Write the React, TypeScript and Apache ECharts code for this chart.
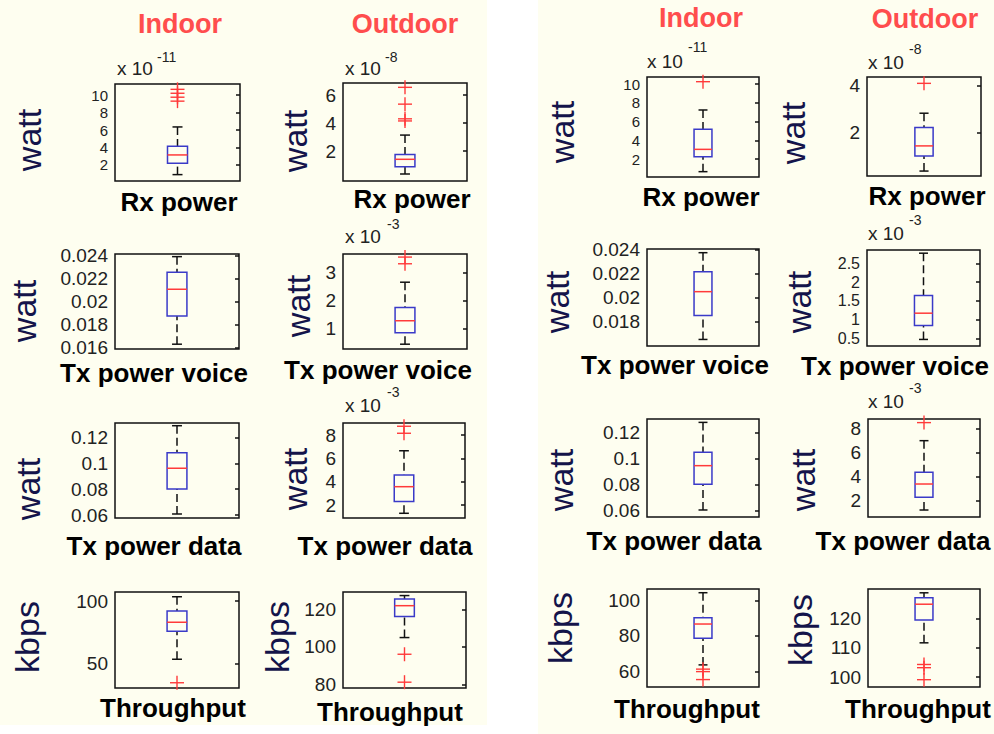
import React, { useEffect, useRef } from 'react';
import * as echarts from 'echarts';

// ---------- data ----------
const panelEnvironments = ['Indoor', 'Outdoor'];
const metricNames = ['Rx power', 'Tx power voice', 'Tx power data', 'Throughput'];
const unitNames = ['watt', 'watt', 'watt', 'kbps'];

// plot order: panel (left, right) -> metric row -> environment (Indoor, Outdoor)
const exponents = ['-11', '-8', '', '-3', '', '-3', '', '', '-11', '-8', '', '-3', '', '-3', '', ''];

// [lower whisker, q1, median, q3, upper whisker] (in axis units, i.e. after the x 10^n factor)
const boxStats = [
  [0.9, 2.2, 3.15, 4.15, 6.35],
  [0.36, 0.88, 1.41, 1.76, 3.14],
  [0.01629, 0.01876, 0.02109, 0.02258, 0.02394],
  [0.43, 0.84, 1.27, 1.74, 2.65],
  [0.0608, 0.0801, 0.0962, 0.1082, 0.1291],
  [1.29, 2.29, 3.57, 4.57, 6.65],
  [53.4, 75.8, 83, 92, 103.4],
  [105, 116.2, 122, 125.6, 127.4],
  [0.65, 2.25, 3.03, 5.17, 7.23],
  [0.38, 1.02, 1.45, 2.23, 2.84],
  [0.01649, 0.01849, 0.0205, 0.02218, 0.02377],
  [0.47, 0.84, 1.17, 1.64, 2.77],
  [0.0604, 0.0802, 0.0945, 0.1048, 0.1278],
  [1.21, 2.27, 3.37, 4.35, 6.97],
  [63.6, 78.6, 86.7, 90.3, 104.4],
  [111.7, 119.5, 124.9, 127.1, 128.8],
];

const outliers = [
  [10.65, 10.2, 9.75, 9.3],
  [6.55, 5.35, 4.3, 4.15],
  [],
  [3.55, 3.31],
  [],
  [8.75, 8.15],
  [34.6],
  [96.1, 81.2],
  [10.25],
  [4.11],
  [],
  [],
  [],
  [8.47],
  [61.2, 59.8, 55.3],
  [104.3, 103.2, 99.1],
];

const yMins = [0.17, -0.14, 0.01587, 0.258, 0.0577, 0.886, 30.4, 78.1, 0.08, 0.17, 0.01594, 0.295, 0.055, 0.63, 51.1, 96.6];
const yMaxs = [11.26, 6.86, 0.02417, 3.66, 0.1312, 9.03, 107.2, 129.3, 10.75, 4.38, 0.02408, 2.855, 0.1304, 8.77, 106.5, 130.1];

const yTicks = [
  [2, 4, 6, 8, 10],
  [2, 4, 6],
  [0.016, 0.018, 0.02, 0.022, 0.024],
  [1, 2, 3],
  [0.06, 0.08, 0.1, 0.12],
  [2, 4, 6, 8],
  [50, 100],
  [80, 100, 120],
  [2, 4, 6, 8, 10],
  [2, 4],
  [0.018, 0.02, 0.022, 0.024],
  [0.5, 1, 1.5, 2, 2.5],
  [0.06, 0.08, 0.1, 0.12],
  [2, 4, 6, 8],
  [60, 80, 100],
  [100, 110, 120],
];

// ---------- layout ----------
const plotRects = [
  [115, 84, 125, 97], [343, 83, 124, 98],
  [115, 254, 124, 95], [343, 254, 124, 95],
  [115, 423, 124, 95], [343, 423, 122, 95],
  [115, 592, 124, 96], [343, 592, 123, 96],
  [647, 77, 112, 100], [867, 77, 114, 99],
  [647, 249, 112, 97], [867, 250, 113, 96],
  [647, 419, 112, 98], [868, 419, 112, 98],
  [647, 589, 112, 98], [868, 589, 112, 98],
];
const tickFontSizes = [15, 19, 19, 19, 19, 19, 19, 19, 15, 19, 19, 16, 19, 19, 19, 19];
const titlePos = [[180, 24], [405, 24], [701, 18], [925, 19]];
const xLabelPos = [
  [179, 202], [412, 199], [154, 373], [378, 370], [154, 546], [385, 546], [173, 708], [390, 712],
  [701, 197], [927, 196], [675, 365], [895, 366], [674, 541], [903, 541], [687, 709], [918, 709],
];
const yLabelPos = [
  [29, 140], [295, 141], [24, 311], [298, 306], [28, 489], [295, 479], [27, 637], [277, 637],
  [562, 132], [793, 133], [557, 302], [799, 302], [561, 480], [803, 480], [560, 628], [800, 630],
];
const expPos: Record<number, number[]> = {
  0: [117, 68, 157, 57],
  1: [345, 68, 385, 57],
  3: [345, 236, 387, 224],
  5: [345, 405, 387, 392],
  8: [647, 61, 688, 47],
  9: [868, 62, 909, 49],
  11: [868, 233, 909, 220],
  13: [868, 401, 909, 388],
};

const FONT = "'Liberation Sans', Arial, sans-serif";
const CREAM = '#fefef0';
const BOX_BLUE = '#3a3ac8';
const MED_RED = '#ff3a3a';
const OUT_RED = '#ff3a3a';
const INK = '#111111';

function renderBox(params: any, api: any) {
  const xv = api.value(0);
  const y = (v: number) => api.coord([xv, v])[1];
  const cx = api.coord([xv, api.value(3)])[0];
  const w = params.coordSys.width * 0.16;
  const cap = w * 0.5;
  const yl = y(api.value(1));
  const y1 = y(api.value(2));
  const ym = y(api.value(3));
  const y3 = y(api.value(4));
  const yh = y(api.value(5));
  const wStyle = { stroke: INK, lineWidth: 1.5, lineDash: [8, 4] };
  const cStyle = { stroke: INK, lineWidth: 1.5 };
  return {
    type: 'group',
    children: [
      { type: 'line', shape: { x1: cx, y1: yh, x2: cx, y2: y3 }, style: wStyle },
      { type: 'line', shape: { x1: cx, y1: yl, x2: cx, y2: y1 }, style: wStyle },
      { type: 'line', shape: { x1: cx - cap / 2, y1: yh, x2: cx + cap / 2, y2: yh }, style: cStyle },
      { type: 'line', shape: { x1: cx - cap / 2, y1: yl, x2: cx + cap / 2, y2: yl }, style: cStyle },
      { type: 'rect', shape: { x: cx - w / 2, y: y3, width: w, height: y1 - y3 }, style: { fill: 'none', stroke: BOX_BLUE, lineWidth: 1.5 } },
      { type: 'line', shape: { x1: cx - w / 2, y1: ym, x2: cx + w / 2, y2: ym }, style: { stroke: MED_RED, lineWidth: 1.5 } },
    ],
  };
}

function renderPlus(params: any, api: any) {
  const p = api.coord([api.value(0), api.value(1)]);
  const s = 7;
  const st = { stroke: OUT_RED, lineWidth: 1.4 };
  return {
    type: 'group',
    children: [
      { type: 'line', shape: { x1: p[0] - s, y1: p[1], x2: p[0] + s, y2: p[1] }, style: st },
      { type: 'line', shape: { x1: p[0], y1: p[1] - s, x2: p[0], y2: p[1] + s }, style: st },
    ],
  };
}

function buildOption() {
  const grid: any[] = [];
  const xAxis: any[] = [];
  const yAxis: any[] = [];
  const series: any[] = [];
  const graphic: any[] = [
    { type: 'rect', z: -10, shape: { x: 0, y: 0, width: 487, height: 725 }, style: { fill: CREAM } },
    { type: 'rect', z: -10, shape: { x: 538, y: 0, width: 456, height: 734 }, style: { fill: CREAM } },
  ];

  boxStats.forEach((st, i) => {
    const r = plotRects[i];
    grid.push({
      left: r[0], top: r[1], width: r[2], height: r[3],
      show: true, borderColor: INK, borderWidth: 1.5, backgroundColor: 'transparent',
    });
    xAxis.push({
      type: 'category', gridIndex: i, data: [metricNames[Math.floor((i % 8) / 2)]],
      show: false,
    });
    yAxis.push({
      type: 'value', gridIndex: i, position: 'left', min: yMins[i], max: yMaxs[i],
      axisLine: { show: false }, axisTick: { show: false }, splitLine: { show: false },
      axisLabel: {
        customValues: yTicks[i], color: '#222', fontSize: tickFontSizes[i], fontFamily: FONT, margin: 7,
        hideOverlap: false,
      },
    });
    yAxis.push({
      type: 'value', gridIndex: i, position: 'right', min: yMins[i], max: yMaxs[i],
      axisLine: { show: false }, splitLine: { show: false },
      axisLabel: { show: false },
      axisTick: { show: true, inside: true, length: 4, customValues: yTicks[i], lineStyle: { color: INK, width: 1.5 } },
    });
    series.push({
      type: 'custom', xAxisIndex: i, yAxisIndex: 2 * i,
      renderItem: renderBox,
      encode: { x: 0, y: [1, 2, 3, 4, 5] },
      data: [[0, ...st]],
      z: 3,
    });
    if (outliers[i].length) {
      series.push({
        type: 'custom', xAxisIndex: i, yAxisIndex: 2 * i,
        renderItem: renderPlus,
        encode: { x: 0, y: 1 },
        data: outliers[i].map((v) => [0, v]),
        z: 4,
      });
    }

    const row = Math.floor((i % 8) / 2);
    graphic.push({
      type: 'text', x: xLabelPos[i][0], y: xLabelPos[i][1],
      style: { text: metricNames[row], fill: '#000', font: `bold 26px ${FONT}`, align: 'center', verticalAlign: 'middle' },
    });
    graphic.push({
      type: 'text', x: yLabelPos[i][0], y: yLabelPos[i][1], rotation: Math.PI / 2,
      style: { text: unitNames[row], fill: '#14144a', font: `34px ${FONT}`, align: 'center', verticalAlign: 'middle' },
    });
    if (exponents[i]) {
      const e = expPos[i];
      graphic.push({
        type: 'text', x: e[0], y: e[1],
        style: { text: 'x 10', fill: '#222', font: `19px ${FONT}`, align: 'left', verticalAlign: 'middle' },
      });
      graphic.push({
        type: 'text', x: e[2], y: e[3],
        style: { text: exponents[i], fill: '#222', font: `14px ${FONT}`, align: 'left', verticalAlign: 'middle' },
      });
    }
  });

  titlePos.forEach((p, k) => {
    graphic.push({
      type: 'text', x: p[0], y: p[1],
      style: { text: panelEnvironments[k % 2], fill: '#ff4d4d', font: `bold 27px ${FONT}`, align: 'center', verticalAlign: 'middle' },
    });
  });

  return {
    animation: false,
    backgroundColor: '#ffffff',
    grid, xAxis, yAxis, series, graphic,
  };
}

export default function App() {
  const ref = useRef<HTMLDivElement>(null);
  useEffect(() => {
    if (!ref.current) return;
    const chart = echarts.init(ref.current, null, { renderer: 'svg' });
    chart.setOption(buildOption() as any);
    return () => chart.dispose();
  }, []);
  return (
    <div
      ref={ref}
      style={{ position: 'absolute', left: 0, top: 0, width: 994, height: 734 }}
    />
  );
}
